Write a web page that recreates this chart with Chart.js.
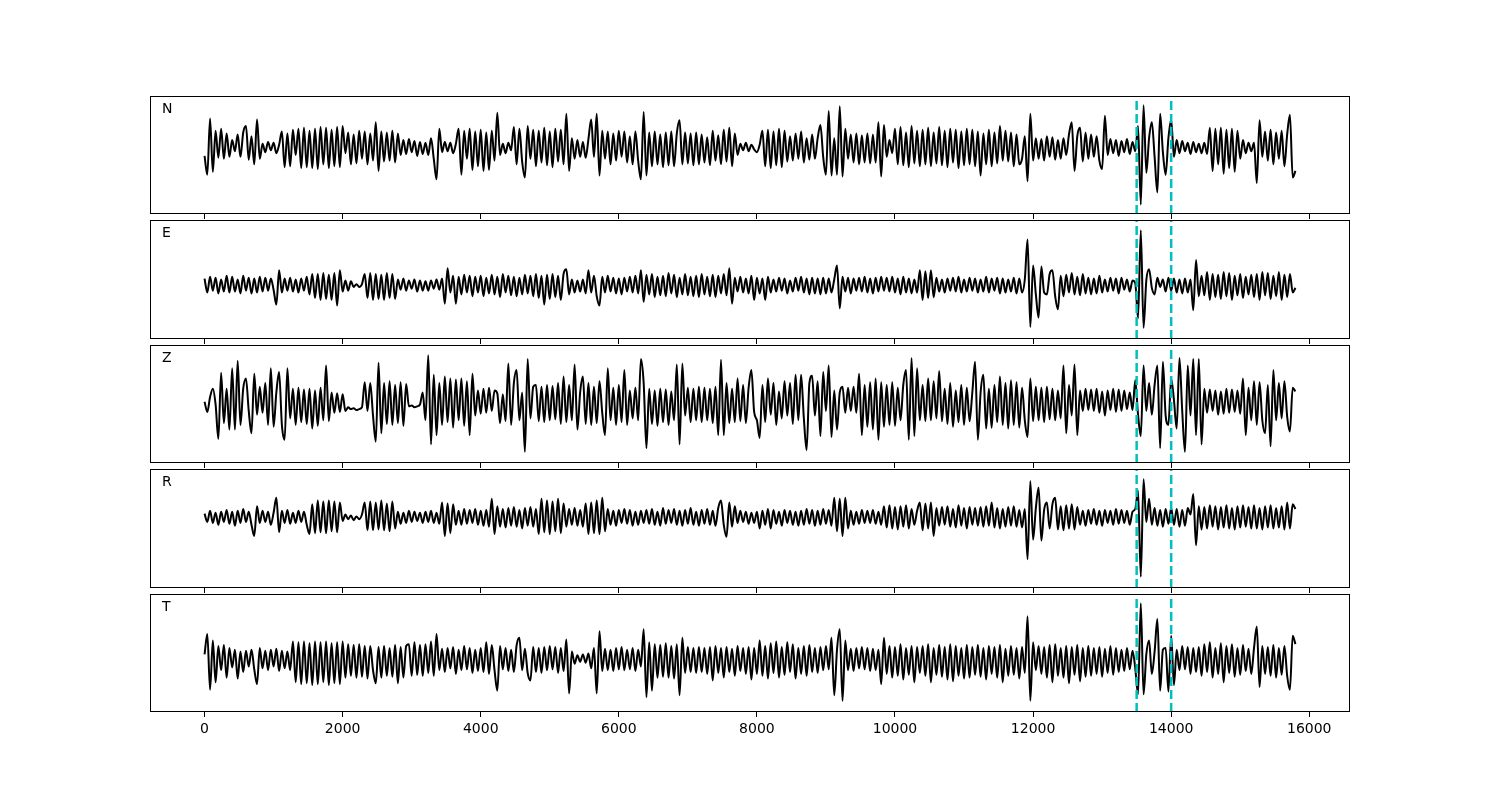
<!DOCTYPE html>
<html>
<head>
<meta charset="utf-8">
<script src="https://cdn.jsdelivr.net/npm/chart.js@4/dist/chart.umd.min.js"></script>
<style>
  body { margin: 0; background: #fff; }
  #wrap { position: relative; width: 1500px; height: 800px; }
  #wrap canvas { position: absolute; left: 0; }
</style>
</head>
<body>
<div id="wrap"></div>
<script>
// --- Data ---
const STEP = 40; // sample spacing along x
const xTicks = [0, 2000, 4000, 6000, 8000, 10000, 12000, 14000, 16000];
const markerTimes = [13500, 14000];
const panelNames = ['N', 'E', 'Z', 'R', 'T'];

const traceN = [
  -9, -29, 31, -26, 18, -11, 20, -12, 15, -10, 8, -4, 14, -10, 16, 23, -13, 12, -18, 30,
  -12, 4, -5, 6, -3, 5, -6, 3, 17, -21, 15, -20, 19, -8, 20, -22, 21, -21, 18, -22,
  20, -23, 22, -18, 21, -22, 19, -20, 22, -21, 23, -6, 16, -18, 14, -17, 18, -12, 17, -18,
  15, -14, 27, -25, 17, -15, 16, -14, 18, -16, 15, -8, 8, -7, 9, -5, 7, -9, 6, -7,
  5, -8, 10, -12, -34, 20, -5, 6, -4, 5, -6, 4, 20, -29, 18, -12, 20, -24, 17, -20,
  19, -25, 16, -24, 18, -14, 37, -8, 4, -6, 5, -3, 22, -18, 20, -15, -32, 23, -12, 19,
  -20, 18, -16, 21, -19, 17, -21, 20, -15, 19, -18, 36, -25, 10, -12, 8, -10, 6, -11, 9,
  30, -10, 36, -30, 18, -12, 17, -18, 15, -14, 18, -10, 17, -16, 12, -18, 17, -14, -34, 38,
  -30, 16, -20, 17, -18, 14, -21, 16, -19, 17, -20, 15, 29, -18, 16, -17, 15, -19, 16, -18,
  14, -16, 11, -19, 18, -14, 13, -18, 19, -15, 21, -20, 15, -8, 4, -3, 5, -4, 3, -2,
  -5, 3, 18, -20, 19, -22, 17, -19, 20, -21, 18, -15, 12, -14, 15, -12, 17, -16, 10, -13,
  14, -12, 10, 24, -10, -29, 39, -30, 10, -29, 44, -31, 20, -12, 14, -16, 15, -18, 13, -16,
  15, -17, 14, -16, 27, -31, 24, -10, 8, -6, 20, -18, 22, -19, 16, -21, 23, -17, 18, -20,
  19, -18, 21, -20, 16, -17, 22, -19, 18, -21, 20, -16, 19, -22, 17, -19, 20, -18, 19, -20,
  17, -30, 15, -18, 19, -20, 16, -17, 23, -14, 18, -15, 16, -20, 14, -18, -12, 12, -36, 36,
  -14, 10, -12, 9, -14, 12, -10, 11, -13, 8, -12, 10, -8, 14, 27, -25, 12, 21, -15, 16,
  -12, 14, -10, 12, -14, -23, 34, -8, 9, -6, 8, -9, 7, -5, 9, -7, 6, -4, 23, -61,
  45, -27, 10, 27, -10, -48, 36, -5, -29, 10, 30, -10, 8, -6, 7, -4, 5, -7, 6, -5,
  4, -6, 5, -7, 21, -25, 20, -18, 21, -28, 19, -22, 20, -26, 18, -12, 8, -6, 5, -4,
  5, -38, 29, -10, 17, -14, 19, -18, 16, -12, 18, -20, 14, 35, -32, -25
];

const traceE = [
  7, -8, 9, -6, 8, -9, 6, -7, 10, -8, 9, -7, 6, -9, 10, -6, 8, -9, 7, -8,
  9, -7, 8, -6, 7, -5, -21, 16, -8, 7, -6, 8, -7, 6, -8, 7, -6, 9, -10, 12,
  -14, 12, -16, 13, -15, 11, -16, 13, -22, 16, -7, 5, -6, 4, -2, 1, -2, 1, 12, -14,
  13, -16, 12, -15, 11, -16, 13, -14, 12, -15, 6, -5, 7, -6, 5, -4, 6, -7, 5, -6,
  4, -6, 5, -4, 6, -5, 7, -20, 18, -8, 10, -20, 9, -10, 11, -8, 10, -12, 9, -8,
  10, -12, 8, -9, 11, -10, 9, -13, 12, -8, 10, -11, 9, -12, 8, -10, 11, -9, 10, -12,
  12, -14, 10, -21, 11, -15, 12, -13, 10, -16, 12, 17, -10, 6, -8, 5, -7, 6, -9, 16,
  -8, 10, -12, -22, 9, -8, 10, -7, 8, -9, 7, -10, 8, -7, 9, -8, 10, -9, 16, -18,
  11, -10, 12, -13, 9, -11, 10, -12, 13, -9, 11, -13, 8, -10, 12, -11, 9, -12, 10, -13,
  12, -10, 9, -12, 11, -13, 10, -9, 12, -11, 18, -20, 8, -7, 9, -8, 7, -9, 10, -16,
  8, -9, 7, -16, 9, -8, 6, -7, 8, -6, 7, -9, 5, -7, 8, -6, 9, -8, 7, -10,
  8, -9, 7, -10, 8, -9, 7, -8, 6, 21, -25, 9, -7, 8, -9, 7, -6, 8, -7, 9,
  -8, 7, -9, 8, -7, 9, -6, 8, -7, 9, -8, 7, -10, 9, -8, 7, -9, 6, -8, 16,
  -16, 15, -14, 16, -13, 8, -7, 6, -8, 7, -6, 8, -7, 9, -8, 6, -7, 8, -6, 7,
  -8, 6, -7, 9, -8, 7, -6, 8, -9, 7, -8, 6, -7, 8, -9, 7, -8, 6, 49, -45,
  21, -10, -35, 20, -8, -10, 12, 16, -12, -26, 10, -12, 11, -8, 13, -10, 9, -11, 12, -9,
  8, -10, 7, -9, 10, -8, 6, -7, 8, -6, 7, -9, 8, -5, 6, -7, 5, 2, -36, 59,
  -46, 5, 17, -3, -10, 8, -2, 6, -7, 8, -6, 7, -8, 6, -9, 7, -8, 6, -27, 27,
  -12, 10, -11, 14, -16, 12, -13, 11, -15, 14, -12, 13, -16, 10, -11, 12, -14, 9, -10, 11,
  -13, 12, -16, 14, -11, 13, -15, 10, -12, 14, -16, 11, -13, 12, -8, -3
];

const traceZ = [
  0, -11, 5, 14, -3, -40, 31, -23, 14, -30, 36, -30, 44, -25, 14, 25, -10, -34, 30, -14,
  16, -12, 20, -25, 36, -27, 10, 32, -25, -41, 36, -18, 14, -25, 15, -22, 13, -24, 14, -29,
  12, -26, 15, -20, 39, -21, 10, -12, 9, -11, 8, -10, -6, -8, -7, -9, -8, -6, 21, -10,
  20, -15, -43, 42, -34, 20, -24, 22, -25, 18, -23, 21, -26, 19, -5, -4, -6, -5, -3, 10,
  -20, 50, -46, 29, -36, 20, -25, 27, -22, 25, -28, 24, -20, 25, -26, 22, -36, 30, -15, 12,
  -13, 14, -12, 15, -10, 12, 9, -23, 8, -21, 41, -25, 20, 34, -20, 10, -54, 46, -18, 16,
  18, -21, 16, -22, 18, -20, 17, -19, 20, -24, 27, -22, 18, -20, 40, -30, 10, 27, -24, 20,
  -25, 16, -23, 22, -12, -36, 36, -20, 15, -25, 18, -22, 34, -25, 12, -18, 15, -20, 46, 20,
  -50, 14, -24, 12, -26, 14, -22, 13, -25, 11, -20, 40, -46, 41, -15, 15, -22, 14, -20, 16,
  -22, 15, -20, 14, -23, 16, -36, 45, -36, 20, -23, 14, -22, 25, -21, 18, -23, 15, 34, -11,
  -20, -39, 18, -22, 25, -14, 20, -25, 11, -18, 22, -15, 20, -24, 29, -20, 29, -18, -52, 20,
  28, -15, 22, -37, 32, -10, 39, -38, 12, -30, 10, 16, -12, 15, -10, 16, -12, 30, -36, 18,
  -27, 21, -30, 25, -41, 21, -27, 18, -25, 21, -26, 15, -20, 18, 34, -41, 47, -37, 36, -20,
  18, -21, 25, -20, 22, -18, 33, -21, 14, -24, 20, -27, 12, -22, 18, -25, 15, -21, 10, 43,
  -41, 10, 29, -29, 14, -28, 18, -22, 27, -25, 20, -29, 23, -25, 21, -28, 15, -20, -38, 25,
  -21, 16, -20, 15, -22, 16, -19, 14, -20, 12, -18, 39, -34, 18, -15, 40, -36, 12, -10, 14,
  -9, 13, -10, 14, -12, 11, -15, 12, -9, 14, -11, 13, -10, 12, -8, 10, -9, 23, -14, -37,
  39, -10, 20, -14, 18, 39, -50, 43, -15, -25, 25, 2, -29, 47, -10, -54, 39, -15, 46, -36,
  46, -46, 14, -12, 13, -10, 12, -14, 11, -13, 14, -12, 13, -11, 12, -13, 25, -36, 15, -20,
  22, -25, 21, -20, -34, 18, -48, 34, -20, 20, -18, 22, -16, -32, 15, 11
];

const traceR = [
  4, -5, 7, -6, 5, -8, 6, -5, 8, -7, 6, -9, 7, -6, 9, -5, 6, -8, -20, 12,
  -6, 7, -5, 6, -8, 5, 21, -16, 7, -6, 8, -7, 5, -6, 7, -5, 6, -8, -18, 14,
  -17, 18, -16, 17, -17, 18, -15, 17, -16, 16, -4, 3, -2, 2, -3, 1, -2, 3, 16, -14,
  17, -14, 16, -13, 18, -14, 15, -15, 17, -12, 6, -7, 5, -6, 7, -5, 6, -4, 5, -6,
  6, -5, 7, -6, 5, -7, 16, -20, 15, -17, 14, -8, 7, -8, 9, -7, 8, -6, 9, -8,
  7, -9, 8, -10, 20, -18, 12, -10, 9, -11, 10, -9, 11, -10, 8, -12, 10, -9, 11, -10,
  9, -18, 20, -16, 18, -18, 17, -15, 20, -17, 15, -10, 9, -8, 10, -9, 8, -10, 15, -18,
  16, -17, 18, -18, 21, -15, 9, -8, 7, -9, 8, -6, 9, -7, 8, -9, 6, -8, 7, -6,
  8, -7, 9, -8, 6, -9, 10, -7, 8, -6, 9, -8, 7, -9, 8, -7, 10, -8, 6, -9,
  8, -7, 9, -8, 7, -9, 10, 18, -8, -21, 16, -10, 12, -6, 7, -5, 6, -7, 5, -6,
  6, -12, 7, -8, 9, -12, 8, -7, 6, -9, 8, -6, 7, -8, 6, -9, 7, -8, 9, -7,
  8, -9, 7, -8, 9, -7, 8, -9, 21, -15, 20, -20, 21, -12, 7, -8, 6, -7, 8, -6,
  7, -6, 8, -7, 6, -8, 12, -11, 13, -12, 11, -13, 12, -10, 13, -12, 9, -8, 7, 16,
  -14, 15, -12, 16, -20, 10, -9, 11, -8, 12, -10, 9, -11, 13, -9, 10, -12, 11, -8, 10,
  -9, 11, -10, 12, -9, 16, -11, 10, -12, 9, -10, 11, -9, 12, -10, 8, -11, 9, -45, 39,
  -24, 10, 32, -25, 8, 16, -12, 14, 21, -13, 12, -14, 13, -12, 14, -13, 11, -8, 7, -9,
  8, -7, 9, -8, 7, -9, 8, -6, 7, -8, 9, -7, 8, -6, 7, -8, 6, 9, 29, -64,
  41, -5, 20, -8, 10, -9, 8, -10, 9, -7, 10, -8, 9, -10, 8, -9, 10, 3, 25, -30,
  12, -13, 11, -12, 13, -10, 12, -13, 11, -11, 13, -12, 10, -13, 12, -11, 13, -10, 11, -12,
  13, -12, 10, -13, 12, -11, 13, -12, 10, -11, 12, -13, 16, -12, 14, 9
];

const traceT = [
  5, 27, -33, 20, -25, 14, -12, 15, -20, 12, -9, 10, -21, 8, -14, 9, -8, 10, -11, -27,
  12, -10, 9, -12, 10, -8, 11, -13, 9, -10, 8, -12, 19, -25, 18, -27, 19, -26, 17, -28,
  19, -27, 18, -25, 19, -28, 17, -26, 18, -27, 19, -20, 16, -18, 15, -20, 16, -19, 14, -21,
  14, -12, -26, 13, -20, 14, -18, 12, -19, 15, -26, 13, -20, 14, 16, -18, 18, -17, 15, -18,
  16, -15, 19, -18, 27, -12, 11, -14, 12, -10, 13, -16, 10, -12, 14, -11, 12, -15, 10, -13,
  12, -14, 18, -16, 15, -12, -34, 14, -11, 12, -13, 10, -14, 15, 23, -12, 11, -15, -23, 13,
  -14, 12, -15, 13, -12, 14, -11, 13, -15, 12, -13, 21, -37, 8, -5, 4, -3, 5, -4, 6,
  -10, 12, -37, 30, -13, 11, -12, 10, -13, 12, -11, 13, -12, 10, -11, 12, -13, 10, -8, 32,
  -41, 18, -34, 16, -20, 15, -19, 17, -20, 14, -21, 16, -39, 23, -15, 13, -14, 12, -15, 13,
  -14, 12, -16, 13, -23, 14, -15, 12, -20, 13, -14, 11, -18, 14, -13, 12, -16, 13, -22, 12,
  -16, 20, -18, 14, -21, 17, -15, 19, -20, 13, -17, 18, -14, 16, -21, 12, -16, 14, -18, 15,
  -14, 12, -15, 13, -12, 14, -11, 23, -39, 10, 32, -45, 20, -12, 11, -13, 12, -10, 13, -11,
  12, -13, 11, -12, 10, -27, 23, -16, 14, -20, 13, -18, 16, -22, 12, -17, 14, -25, 13, -15,
  14, -18, 16, -25, 12, -17, 15, -19, 13, -22, 16, -24, 14, -18, 12, -21, 15, -20, 13, -17,
  15, -19, 12, -22, 14, -16, 13, -20, 15, -25, 11, -18, 14, -17, 12, -21, 13, -15, 46, -45,
  18, -12, 14, -16, 13, -20, 15, -25, 16, -18, 12, -20, 14, -26, 13, -17, 15, -24, 12, -19,
  14, -18, 12, -16, 13, -19, 11, -15, 14, -17, 12, -14, 10, -13, 12, -11, 9, -10, -38, 60,
  -38, 5, 20, -16, 8, 43, -34, 10, 12, -35, 25, -28, 10, -12, 14, -11, 13, -16, 12, -14,
  13, -18, 16, -14, 18, -20, 12, -16, 17, -25, 14, -15, 16, -19, 12, -17, 15, -13, 11, -16,
  12, 35, -30, 14, -16, 13, -18, 15, -20, 12, -17, 14, -18, -33, 25, 16
];

// --- Panel setup ---
const traces = [traceN, traceE, traceZ, traceR, traceT];
const panelTops = [96, 220, 345, 469, 594];
const panelBottoms = [214, 339, 463, 588, 712];
const yMins = [-71, -58, -66, -76, -57];
const yMaxs = [55, 70, 61, 52, 70];
const X_MIN = -790, X_MAX = 16590;
const PAD_TOP = 4;

// box around each panel plus its channel letter
const framePlugin = {
    id: 'frame',
    afterDraw(chart, args, opts) {
        const { ctx, chartArea: a } = chart;
        ctx.save();
        ctx.strokeStyle = '#000';
        ctx.lineWidth = 1;
        ctx.strokeRect(Math.round(a.left) + 0.5, Math.round(a.top) + 0.5,
            Math.round(a.right - a.left) - 1, Math.round(a.bottom - a.top) - 1);
        ctx.fillStyle = '#000';
        ctx.font = '14px "DejaVu Sans"';
        ctx.textBaseline = 'alphabetic';
        ctx.fillText(opts.label, a.left + 12, a.top + 17);
        ctx.restore();
    }
};

const wrap = document.getElementById('wrap');

traces.forEach((trace, p) => {
    const isBottom = p === traces.length - 1;
    const h = panelBottoms[p] - panelTops[p];
    const bottomSpace = isBottom ? 40 : 6;

    const canvas = document.createElement('canvas');
    canvas.width = 1500;
    canvas.height = h + PAD_TOP + bottomSpace;
    canvas.style.top = (panelTops[p] - PAD_TOP) + 'px';
    wrap.appendChild(canvas);

    const markerSets = markerTimes.map(t => ({
        data: [{ x: t, y: yMins[p] }, { x: t, y: yMaxs[p] }],
        borderColor: '#00bfbf',
        borderWidth: 2.5,
        borderDash: [9, 4],
        pointRadius: 0,
        order: 0
    }));

    new Chart(canvas, {
        type: 'line',
        data: {
            datasets: [
                ...markerSets,
                {
                    data: trace.map((v, i) => ({ x: i * STEP, y: v })),
                    borderColor: '#000',
                    borderWidth: 2,
                    pointRadius: 0,
                    cubicInterpolationMode: 'monotone',
                    order: 1
                }
            ]
        },
        options: {
            responsive: false,
            animation: false,
            devicePixelRatio: 1,
            layout: { padding: { left: 150, right: 150, top: PAD_TOP, bottom: 0 } },
            plugins: {
                legend: { display: false },
                tooltip: { enabled: false },
                frame: { label: panelNames[p] }
            },
            scales: {
                x: {
                    type: 'linear',
                    min: X_MIN,
                    max: X_MAX,
                    afterBuildTicks: (scale) => {
                        scale.ticks = xTicks.map(v => ({ value: v }));
                    },
                    afterFit: (scale) => { scale.height = bottomSpace; },
                    grid: {
                        display: true,
                        drawOnChartArea: false,
                        drawTicks: true,
                        tickLength: 5,
                        color: '#000'
                    },
                    border: { display: false },
                    ticks: {
                        display: isBottom,
                        padding: 4,
                        color: '#000',
                        font: { family: 'DejaVu Sans', size: 14 },
                        maxRotation: 0,
                        callback: (v) => String(v)
                    }
                },
                y: {
                    display: false,
                    min: yMins[p],
                    max: yMaxs[p]
                }
            }
        },
        plugins: [framePlugin]
    });
});
</script>
</body>
</html>
